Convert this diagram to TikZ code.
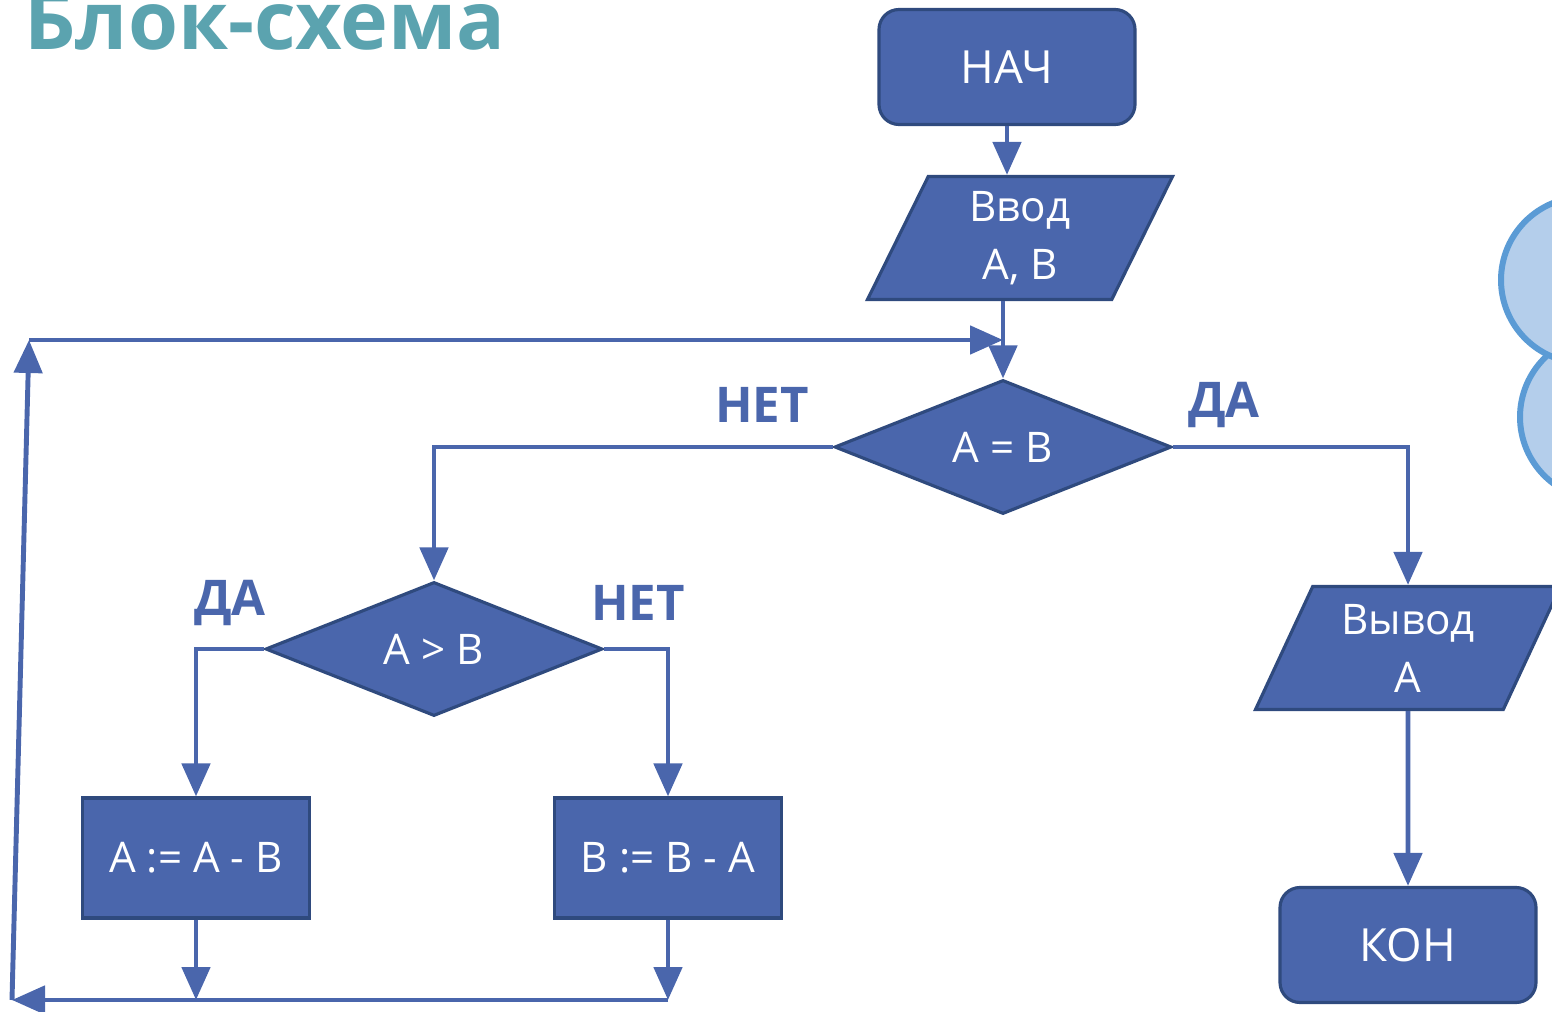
\documentclass[tikz,border=0pt]{standalone}
\usepackage{fontspec}
\setmainfont{Open Sans}
\usetikzlibrary{shapes.geometric,arrows.meta}

\definecolor{boxblue}{HTML}{4A66AC}
\definecolor{boxedge}{HTML}{2F4A7E}
\definecolor{titleteal}{HTML}{5BA3AF}
\definecolor{cloudfill}{HTML}{B4CEEB}
\definecolor{cloudedge}{HTML}{5B9BD5}

\begin{document}
\begin{tikzpicture}[
    x=0.2mm, y=-0.2mm,
    block/.style={draw=boxedge, line width=1.8pt, fill=boxblue,
        text=white, font=\fontsize{24}{33}\selectfont, align=center,
        inner sep=0pt},
    term/.style={block, rounded corners=4mm, minimum width=51.2mm,
        minimum height=23mm, font=\fontsize{26}{33}\selectfont},
    proc/.style={block, minimum width=45.4mm, minimum height=24mm},
    io/.style={block, trapezium, trapezium left angle=57,
        trapezium right angle=123, trapezium stretches body,
        minimum width=61mm, minimum height=24.6mm},
    cond/.style={block, diamond, aspect=2.5, minimum width=67.4mm,
        minimum height=26.8mm},
    lbl/.style={font=\fontsize{28}{30}\selectfont\bfseries, text=boxblue},
    arr/.style={draw=boxblue, line width=2.8pt,
        -{Triangle[length=6.6mm, width=5.6mm]}},
]
\useasboundingbox (0,0) rectangle (1552,1012);

% === Title ===
\node[font=\fontsize{46}{50}\selectfont\bfseries, text=titleteal,
    anchor=base west, inner sep=0pt] (title) at (24,50) {Блок-схема};

% === Clouds at the right edge ===
\draw[cloudedge, fill=cloudfill, line width=1.2mm] (1603,417) circle (83);
\draw[cloudedge, fill=cloudfill, line width=1.2mm] (1584,280) circle (83);

% === Blocks ===
\node[term] (nach) at (1007,67) {НАЧ};
\node[io] (vvod) at (1020,238) {Ввод\\A, B};
\node[cond] (eq) at (1003,447) {A = B};
\node[cond] (gt) at (434,649) {A > B};
\node[proc] (amb) at (196,858) {A := A - B};
\node[proc] (bma) at (668,858) {B := B - A};
\node[io] (out) at (1408,648) {Вывод\\A};
\node[term] (kon) at (1408,945) {КОН};

% === Branch labels ===
\node[lbl] (no1) at (762,405) {НЕТ};
\node[lbl] (yes1) at (1224,405) {ДА};
\node[lbl] (yes2) at (230,603) {ДА};
\node[lbl] (no2) at (638,603) {НЕТ};

% === Main flow ===
\draw[arr] (nach.south) -- (nach.south |- vvod.north);
\draw[arr] (eq.north |- vvod.south) -- (eq.north);
\draw[arr] (eq.west) -| (gt.north);
\draw[arr] (eq.east) -| (out.north);
\draw[arr] (gt.west) -| (amb.north);
\draw[arr] (gt.east) -| (bma.north);
\draw[arr] (out.south) -- (kon.north);

% === Loop back ===
\coordinate (lb) at (12,1000);
\coordinate (lt) at (29,340);
\draw[arr] (amb.south) -- (amb.south |- lb);
\draw[arr] (bma.south) -- (bma.south |- lb);
\draw[arr] (bma.south |- lb) -- (lb);
\draw[arr] (lb) -- (lt);
\draw[arr] (lt) -- (eq.north |- lt);

\end{tikzpicture}
\end{document}
